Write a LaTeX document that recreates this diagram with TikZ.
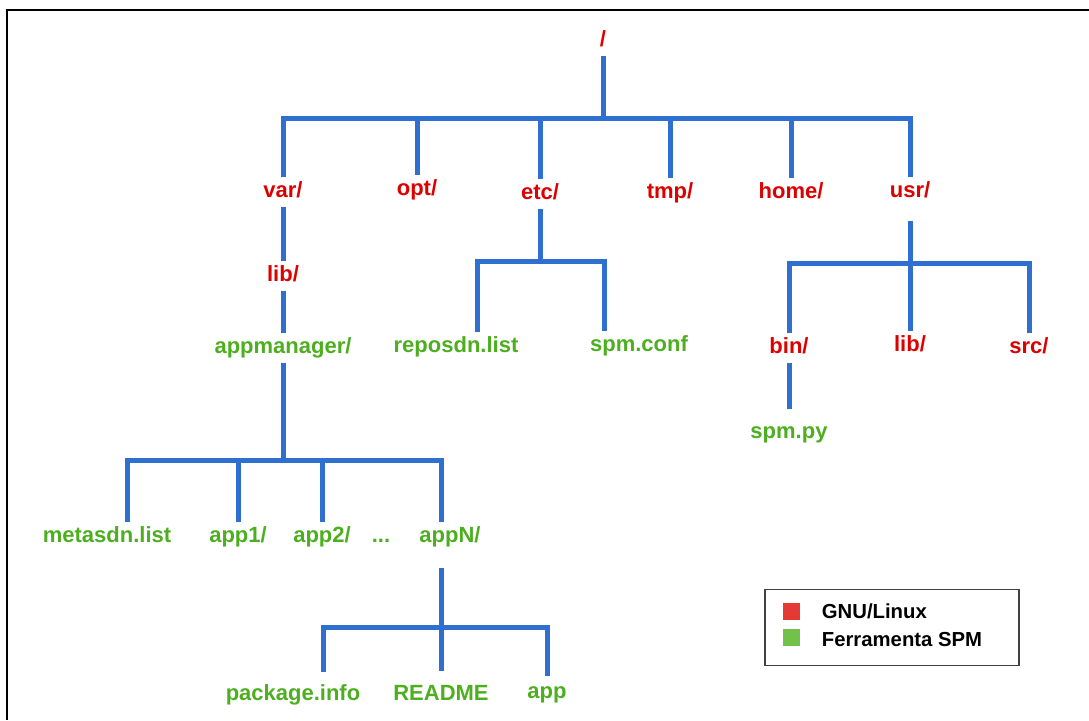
\documentclass[tikz,border=0pt]{standalone}
\usepackage{fontspec}
\setmainfont{Liberation Sans}
\usetikzlibrary{positioning}
\definecolor{dirred}{HTML}{DD0000}
\definecolor{spmgreen}{HTML}{4DAF1F}
\definecolor{treeblue}{HTML}{2F6FD0}
\definecolor{legred}{HTML}{E53935}
\definecolor{leggreen}{HTML}{71C14A}

\begin{document}
\begin{tikzpicture}[
    x=1pt, y=-1pt,
    link/.style={treeblue, line width=5pt},
    sys/.style={text=dirred, font=\fontsize{22}{26}\selectfont\bfseries, text height=16pt, text depth=5pt, inner sep=4pt},
    spm/.style={sys, text=spmgreen},
    swatch/.style={minimum size=17pt, inner sep=0pt},
    legtext/.style={font=\fontsize{20.3}{24}\selectfont\bfseries, inner sep=0pt}
]
\useasboundingbox (0,0) rectangle (1089,720);

% moldura
\draw[line width=1.3pt] (1089,10) -- (7,10) -- (7,720);

% raiz
\node[sys] (root) at (603,41) {/};
\node[sys] (var) at (283,192) {var/};
\node[sys] (opt) at (417,190) {opt/};
\node[sys] (etc) at (540,194) {etc/};
\node[sys] (tmp) at (670,193) {tmp/};
\node[sys] (home) at (791,193) {home/};
\node[sys] (usr) at (910,192) {usr/};

\coordinate (r0) at (603,118);
\draw[link] (root.south) -- (r0);
\draw[link] (var.north) |- (r0) -| (usr.north);
\foreach \d in {opt,etc,tmp,home}
    \draw[link] (\d.north) -- (\d.north |- r0);

% var/lib/appmanager
\node[sys] (lib) at (283,276) {lib/};
\node[spm] (appmgr) at (283,348) {appmanager/};
\draw[link] (var.south) -- (lib.north);
\draw[link] (lib.south) -- (appmgr.north);

\node[spm] (metas) at (107,537) {metasdn.list};
\node[spm] (app1) at (238,537) {app1/};
\node[spm] (app2) at (322,537) {app2/};
\node[spm] (dots) at (381,537) {...};
\node[spm] (appN) at (450,537) {appN/};

\coordinate (a0) at (283,460);
\draw[link] (appmgr.south) -- (a0);
\draw[link] ([xshift=20]metas.north) |- (a0) -| ([xshift=-9]appN.north);
\foreach \d in {app1,app2}
    \draw[link] (\d.north) -- (\d.north |- a0);

% appN/
\node[spm] (pkg) at (293,695) {package.info};
\node[spm] (readme) at (441,695) {README};
\node[spm] (app) at (547,693) {app};

\coordinate (n0) at (441,627);
\draw[link, shorten <=16pt] ([xshift=-9]appN.south) -- (n0);
\draw[link, shorten <=8pt, shorten >=2pt] ([xshift=30]pkg.north) |- (n0) -| (app.north);
\draw[link, shorten <=9pt] (readme.north) -- (n0);

% etc/
\node[spm] (repos) at (456,347) {reposdn.list};
\node[spm] (conf) at (639,346) {spm.conf};

\coordinate (e0) at (540,261);
\draw[link] (etc.south) -- (e0);
\draw[link] ([xshift=21]repos.north) |- (e0) -| ([xshift=-35]conf.north);

% usr/
\node[sys] (bin) at (789,348) {bin/};
\node[sys] (ulib) at (910,346) {lib/};
\node[sys] (src) at (1029,348) {src/};
\node[spm] (spmpy) at (789,433) {spm.py};

\coordinate (u0) at (910,263);
\draw[link, shorten <=14pt] (usr.south) -- (u0);
\draw[link] (bin.north) |- (u0) -| (src.north);
\draw[link] (ulib.north) -- (u0);
\draw[link, shorten >=9pt] (bin.south) -- (spmpy.north);

% legenda
\node[draw=black!75, line width=1.3pt, minimum width=254pt, minimum height=76pt, inner sep=0pt] (legend) at (892,627.5) {};
\node[swatch, fill=legred] (sw1) at (791,611) {};
\node[swatch, fill=leggreen] (sw2) at (791,637.5) {};
\node[legtext, right=22pt of sw1] (l1) {GNU/Linux};
\node[legtext, right=22pt of sw2, yshift=-2pt] (l2) {Ferramenta SPM};

\end{tikzpicture}
\end{document}
